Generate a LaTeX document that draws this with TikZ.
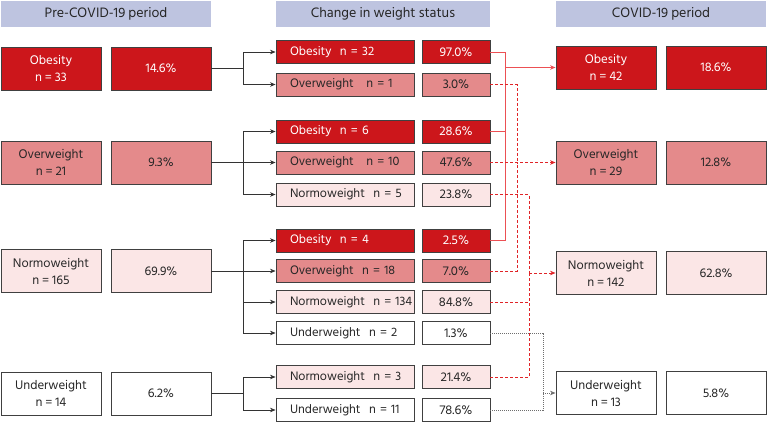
\documentclass[tikz,border=0pt]{standalone}
\usepackage{fontspec}
\setmainfont{Hind Siliguri}
\usetikzlibrary{arrows.meta}
\definecolor{ob}{RGB}{204,22,27}
\definecolor{ow}{RGB}{228,138,139}
\definecolor{nw}{RGB}{251,230,230}
\definecolor{hd}{RGB}{190,196,224}
\definecolor{bd}{RGB}{64,64,64}
\definecolor{lred}{RGB}{236,80,84}
\definecolor{dred}{RGB}{224,36,40}
\definecolor{dgray}{RGB}{110,110,110}
\tikzset{
  hdr/.style={fill=hd, minimum width=210, minimum height=26, inner sep=0, font=\fontsize{14}{16}\selectfont, text=black!85},
  bigbox/.style={draw=bd, line width=0.9pt, minimum width=100, minimum height=43, inner sep=0, align=center, font=\fontsize{12.8}{17}\selectfont, text=black!85},
  catbox/.style={draw=bd, line width=0.9pt, minimum height=23, text width=138, inner xsep=0, inner ysep=0, align=left, font=\fontsize{12.6}{14}\selectfont, text=black!85},
  pbox/.style={draw=bd, line width=0.9pt, minimum height=23, minimum width=68, inner sep=0, align=center, font=\fontsize{13}{14}\selectfont, text=black!85},
  cob/.style={fill=ob, text=white},
  cow/.style={fill=ow},
  cnw/.style={fill=nw},
  cuw/.style={fill=white},
  tree/.style={draw=black!80, line width=0.7pt},
  tip/.style={-{Stealth[length=5.5pt,width=4.5pt]}},
  solred/.style={draw=lred, line width=0.9pt},
  dashred/.style={draw=dred, line width=0.9pt, dash pattern=on 3pt off 2pt},
  dotgray/.style={draw=dgray, line width=0.9pt, dash pattern=on 1pt off 1pt},
}
\newcommand{\ind}[1]{\mbox{\hspace*{14pt}#1}}
\begin{document}
\begin{tikzpicture}[x=1pt,y=-1pt]
\useasboundingbox (0,0) rectangle (767,422);
% headers
\node[hdr] (h1) at (106,14) {Pre-COVID-19 period};
\node[hdr, minimum width=214] (h2) at (383,14) {Change in weight status};
\node[hdr] (h3) at (661,14) {COVID-19 period};
% left column
\node[bigbox,cob] (L1) at (51,68.5) {Obesity\\n = 33};
\node[bigbox,cob] (L1p) at (161,68.5) {14.6\%};
\node[bigbox,cow] (L2) at (51,162.5) {Overweight\\n = 21};
\node[bigbox,cow] (L2p) at (161,162.5) {9.3\%};
\node[bigbox,cnw] (L3) at (51,271) {Normoweight\\n = 165};
\node[bigbox,cnw] (L3p) at (161,271) {69.9\%};
\node[bigbox,cuw] (L4) at (51,393.5) {Underweight\\n = 14};
\node[bigbox,cuw] (L4p) at (161,393.5) {6.2\%};
% middle column
\node[catbox,cob] (m1a) at (345,52) {\ind{Obesity\ \ n = 32}};
\node[pbox,cob] (m1ap) at (456,52) {97.0\%};
\node[catbox,cow] (m1b) at (345,84.5) {\ind{Overweight\ \ \ n = 1}};
\node[pbox,cow] (m1bp) at (456,84.5) {3.0\%};
\node[catbox,cob] (m2a) at (345,131.5) {\ind{Obesity\ \ n = 6}};
\node[pbox,cob] (m2ap) at (456,131.5) {28.6\%};
\node[catbox,cow] (m2b) at (345,162.5) {\ind{Overweight\ \ \ n = 10}};
\node[pbox,cow] (m2bp) at (456,162.5) {47.6\%};
\node[catbox,cnw] (m2c) at (345,194.5) {\ind{Normoweight\ \ n = 5}};
\node[pbox,cnw] (m2cp) at (456,194.5) {23.8\%};
\node[catbox,cob] (m3a) at (345,240.5) {\ind{Obesity\ \ n = 4}};
\node[pbox,cob] (m3ap) at (456,240.5) {2.5\%};
\node[catbox,cow] (m3b) at (345,271) {\ind{Overweight\ \ n = 18}};
\node[pbox,cow] (m3bp) at (456,271) {7.0\%};
\node[catbox,cnw] (m3c) at (345,302) {\ind{Normoweight\ \ n = 134}};
\node[pbox,cnw] (m3cp) at (456,302) {84.8\%};
\node[catbox,cuw] (m3d) at (345,333) {\ind{Underweight\ \ n = 2}};
\node[pbox,cuw] (m3dp) at (456,333) {1.3\%};
\node[catbox,cnw] (m4a) at (345,377) {\ind{Normoweight\ \ n = 3}};
\node[pbox,cnw] (m4ap) at (456,377) {21.4\%};
\node[catbox,cuw] (m4b) at (345,410) {\ind{Underweight\ \ n = 11}};
\node[pbox,cuw] (m4bp) at (456,410) {78.6\%};
% right column
\node[bigbox,cob] (R1) at (606,67.5) {Obesity\\n = 42};
\node[bigbox,cob] (R1p) at (716,67.5) {18.6\%};
\node[bigbox,cow] (R2) at (606,162.5) {Overweight\\n = 29};
\node[bigbox,cow] (R2p) at (716,162.5) {12.8\%};
\node[bigbox,cnw] (R3) at (606,273) {Normoweight\\n = 142};
\node[bigbox,cnw] (R3p) at (716,273) {62.8\%};
\node[bigbox,cuw] (R4) at (606,393) {Underweight\\n = 13};
\node[bigbox,cuw] (R4p) at (716,393) {5.8\%};
% left tree connectors
\coordinate (j1) at (243,68.5);
\coordinate (j2) at (243,162.5);
\coordinate (j3) at (243,271);
\coordinate (j4) at (243,393.5);
\draw[tree] (L1p.east) -- (j1);
\draw[tree,tip] (j1) |- (m1a.west);
\draw[tree,tip] (j1) |- (m1b.west);
\draw[tree] (L2p.east) -- (j2);
\draw[tree,tip] (j2) |- (m2a.west);
\draw[tree,tip] (j2) -- (m2b.west);
\draw[tree,tip] (j2) |- (m2c.west);
\draw[tree] (L3p.east) -- (j3);
\draw[tree,tip] (j3) |- (m3a.west);
\draw[tree,tip] (j3) -- (m3b.west);
\draw[tree,tip] (j3) |- (m3c.west);
\draw[tree,tip] (j3) |- (m3d.west);
\draw[tree] (L4p.east) -- (j4);
\draw[tree,tip] (j4) |- (m4a.west);
\draw[tree,tip] (j4) |- (m4b.west);
% right connectors
\coordinate (r1) at (505,67.5);
\coordinate (r2) at (517,162.5);
\coordinate (r3) at (529,273);
\coordinate (r4) at (543,393);
\draw[solred] (m1ap.east) -| (r1);
\draw[solred] (m2ap.east) -| (r1);
\draw[solred] (m3ap.east) -| (r1);
\draw[solred,tip] (r1) -- (R1.west);
\draw[dashred] (m1bp.east) -| (r2);
\draw[dashred] (m3bp.east) -| (r2);
\draw[dashred,tip] (m2bp.east) -- (R2.west);
\draw[dashred] (m2cp.east) -| (r3);
\draw[dashred] (m3cp.east) -| (r3);
\draw[dashred] (m4ap.east) -| (r3);
\draw[dashred,tip] (r3) -- (R3.west);
\draw[dotgray] (m3dp.east) -| (r4);
\draw[dotgray] (m4bp.east) -| (r4);
\draw[dotgray,tip] (r4) -- (R4.west);
\end{tikzpicture}
\end{document}
